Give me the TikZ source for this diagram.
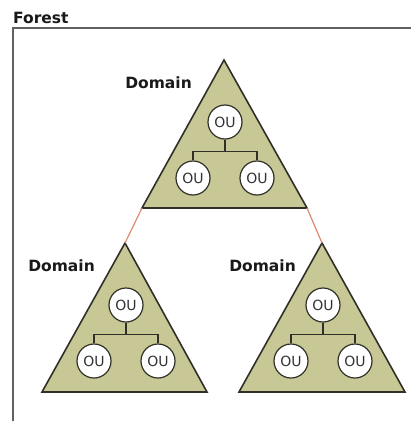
\documentclass[tikz,border=0pt]{standalone}
\usepackage{fontspec}
\setmainfont{DejaVu Sans}
\usetikzlibrary{positioning}

\definecolor{domainfill}{RGB}{200,200,150}
\definecolor{domainline}{RGB}{48,48,40}
\definecolor{trustline}{RGB}{222,138,110}
\definecolor{frameline}{RGB}{96,96,96}

\begin{document}
\begin{tikzpicture}
[x=1pt, y=1pt,
level 1/.style={sibling distance=64pt, level distance=56pt},
edge from parent path={(\tikzparentnode.south) -- ++(0,-12) -| (\tikzchildnode.north)}
]
\tikzset{
    domainbox/.style={draw=domainline, line width=1.6pt, fill=domainfill, line join=miter},
    ou/.style={circle, draw=domainline, line width=1.2pt, fill=white, text=black!80,
               minimum size=34pt, inner sep=0pt, font=\fontsize{14}{14}\selectfont},
    edge from parent/.style={draw=domainline, line width=1.2pt},
    heading/.style={inner sep=0pt, text=black!90, font=\bfseries\fontsize{15.5}{17}\selectfont},
    trust/.style={draw=trustline, line width=1.2pt}
}
\useasboundingbox (0,0) rectangle (411,-421);

% forest frame
\node[heading, anchor=base west] (forest) at (13,-23) {Forest};
\draw[frameline, line width=1.4pt] (13,-421) -- (13,-28) -- (411,-28);

% root domain
\coordinate (root apex) at (224,-60);
\coordinate (root left) at (142,-208);
\coordinate (root right) at (307,-208);
\draw[domainbox] (root apex) -- (root right) -- (root left) -- cycle;
\node[heading, anchor=base east] (root label) at (192,-88) {Domain};
\node[ou] (root ou) at (225,-122) {OU}
    child {node[ou] (root ou1) {OU}}
    child {node[ou] (root ou2) {OU}};

% left child domain
\coordinate (left apex) at (125,-243);
\coordinate (left left) at (42,-392);
\coordinate (left right) at (207,-392);
\draw[domainbox] (left apex) -- (left right) -- (left left) -- cycle;
\node[heading, anchor=base east] (left label) at (95,-271) {Domain};
\node[ou] (left ou) at (126,-305) {OU}
    child {node[ou] (left ou1) {OU}}
    child {node[ou] (left ou2) {OU}};

% right child domain
\coordinate (right apex) at (322,-243);
\coordinate (right left) at (239,-392);
\coordinate (right right) at (405,-392);
\draw[domainbox] (right apex) -- (right right) -- (right left) -- cycle;
\node[heading, anchor=base east] (right label) at (296,-271) {Domain};
\node[ou] (right ou) at (323,-305) {OU}
    child {node[ou] (right ou1) {OU}}
    child {node[ou] (right ou2) {OU}};

% trusts between domains
\draw[trust] (root left) -- (left apex);
\draw[trust] (root right) -- (right apex);
\end{tikzpicture}
\end{document}
